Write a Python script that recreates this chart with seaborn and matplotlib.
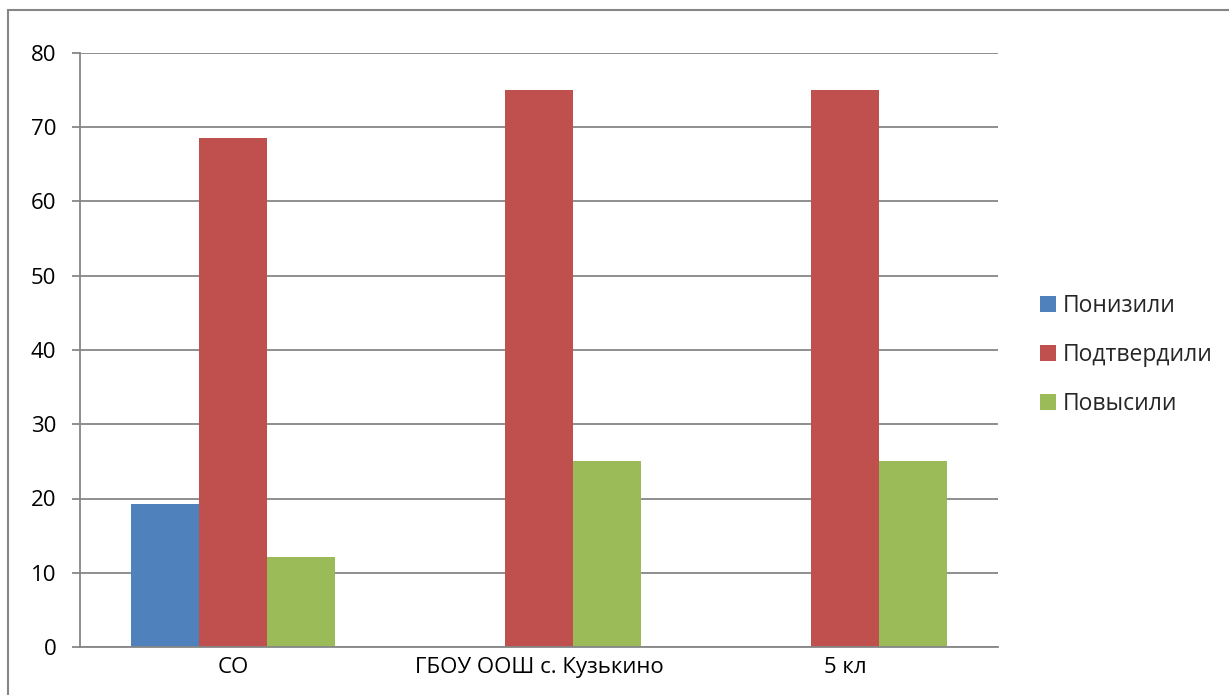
import pandas as pd
import matplotlib
matplotlib.use('Agg')
import matplotlib.pyplot as plt
import seaborn as sns
from matplotlib.patches import Rectangle

# -----------------------------
# Data
# -----------------------------
categories = ['СО', 'ГБОУ ООШ с. Кузькино', '5 кл']
series_names = ['Понизили', 'Подтвердили', 'Повысили']
ponizili = [19.3, 0, 0]
podtverdili = [68.5, 75, 75]
povysili = [12.1, 25, 25]
colors = ['#4F81BD', '#C0504D', '#9BBB59']

df = pd.DataFrame({
    'category': categories * 3,
    'series': [s for s in series_names for _ in categories],
    'value': ponizili + podtverdili + povysili,
})

# -----------------------------
# Plot
# -----------------------------
sns.set_style('white')
plt.rcParams['font.family'] = ['Open Sans', 'DejaVu Sans']
grid_c = '#868686'

fig = plt.figure(figsize=(12.29, 6.95), dpi=100)
W, H = 1229, 695
ax = fig.add_axes([80 / W, 1 - 647 / H, 918 / W, 594 / H])

sns.barplot(data=df, x='category', y='value', hue='series', order=categories,
            hue_order=series_names, palette=colors, width=0.667, saturation=1,
            linewidth=0, ax=ax)

ax.set_ylim(0, 80)
ax.set_xlim(-0.5, 2.5)
ax.set_yticks(range(0, 81, 10))
ax.yaxis.grid(True, color=grid_c, linewidth=1.3)
ax.set_axisbelow(True)
ax.set_xlabel('')
ax.set_ylabel('')

for side in ['top', 'right']:
    ax.spines[side].set_visible(False)
for side in ['left', 'bottom']:
    ax.spines[side].set_color(grid_c)
    ax.spines[side].set_linewidth(1.3)

ax.set_xticks([-0.5, 0.5, 1.5, 2.5], minor=True)
ax.tick_params(axis='x', which='major', length=0, pad=7, labelsize=16, colors='black')
ax.tick_params(axis='x', which='minor', length=6, width=1.3, color=grid_c, direction='out')
ax.tick_params(axis='y', length=6, width=1.3, color=grid_c, pad=11, labelsize=16,
               labelcolor='black', left=True)

leg = ax.legend(loc='center left', bbox_to_anchor=(1031 / W, 1 - 355 / H),
                bbox_transform=fig.transFigure, frameon=False, fontsize=16.5,
                handlelength=0.7, handleheight=0.7, handletextpad=0.3,
                labelspacing=1.08, borderaxespad=0)

# outer chart frame
fig.patches.append(Rectangle((8 / W, -0.1), 1.2, 1 - 10 / H + 0.1,
                             transform=fig.transFigure, fill=False,
                             edgecolor=grid_c, linewidth=1.5))

plt.savefig('out.png', dpi=100)
